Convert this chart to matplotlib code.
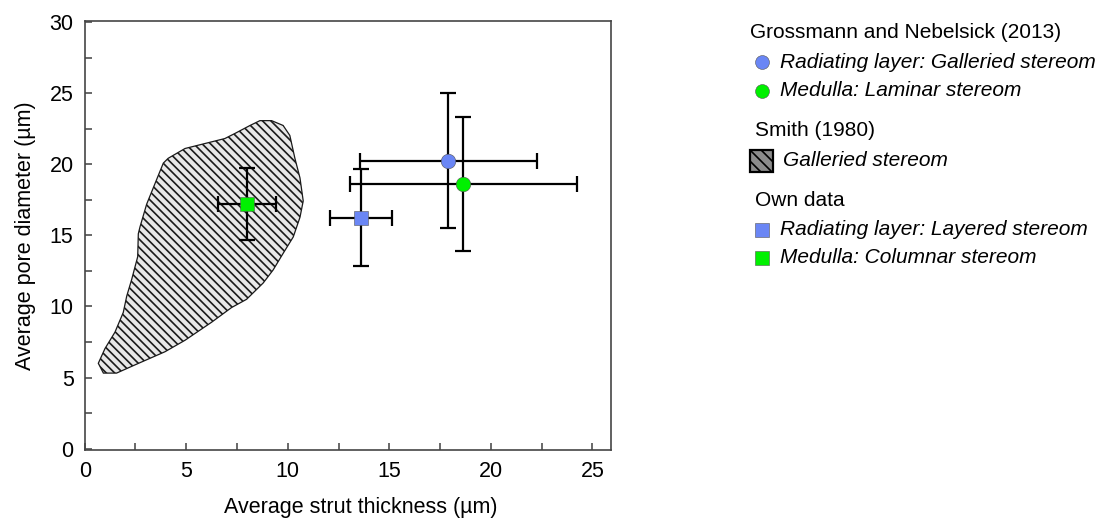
import numpy as np
import matplotlib.pyplot as plt
from matplotlib.lines import Line2D
from matplotlib.patches import Polygon, Rectangle
from matplotlib.ticker import MultipleLocator

plt.rcParams['font.family'] = ['Liberation Sans', 'DejaVu Sans']
plt.rcParams['hatch.linewidth'] = 1.2

# Grossmann and Nebelsick (2013): circles
gn_labels = ["Radiating layer: Galleried stereom", "Medulla: Laminar stereom"]
gn_x = [17.9, 18.65]
gn_y = [20.25, 18.6]
gn_xerr = [4.35, 5.6]
gn_yerr = [4.73, 4.7]
gn_colors = ["#6a86f5", "#00f000"]

# Own data: squares
own_labels = ["Radiating layer: Layered stereom", "Medulla: Columnar stereom"]
own_x = [13.62, 8.0]
own_y = [16.25, 17.22]
own_xerr = [1.52, 1.44]
own_yerr = [3.43, 2.55]
own_colors = ["#6a86f5", "#00f000"]

# Smith (1980): field of galleried stereom (outline)
smith_x = [0.67, 1.00, 1.49, 1.90, 2.07, 2.31, 2.61, 2.64, 2.72, 3.05, 3.54, 3.87,
           4.11, 4.94, 6.90, 7.40, 8.14, 8.63, 9.20, 9.77, 10.10, 10.35, 10.60,
           10.76, 10.60, 10.27, 9.77, 9.28, 8.79, 7.97, 7.23, 6.25, 4.94, 3.95,
           2.48, 1.57, 0.92]
smith_y = [6.00, 7.04, 8.19, 9.58, 10.73, 11.88, 13.50, 15.11, 15.58, 17.19, 18.92,
           20.08, 20.42, 21.11, 21.81, 22.17, 22.73, 23.07, 23.07, 22.73, 22.03,
           20.42, 19.04, 17.42, 16.27, 14.89, 13.73, 12.57, 11.65, 10.50, 9.92,
           8.89, 7.62, 6.81, 5.89, 5.31, 5.31]

W, H = 1105, 520
fig = plt.figure(figsize=(W / 100, H / 100), dpi=100)
ax = fig.add_axes([84.7 / W, 1 - 450 / H, (610.7 - 84.7) / W, (450 - 20.7) / H])

# hatched field
field = Polygon(np.column_stack([smith_x, smith_y]), closed=True,
                facecolor="#e8e8e8", edgecolor="#1a1a1a", linewidth=0.9,
                hatch="\\\\\\\\", zorder=1)
ax.add_patch(field)

err_kw = dict(fmt="none", ecolor="black", elinewidth=1.6, capsize=5.5,
              capthick=1.6, zorder=2)
for x, y, xe, ye, c in zip(gn_x, gn_y, gn_xerr, gn_yerr, gn_colors):
    ax.errorbar(x, y, xerr=xe, yerr=ye, **err_kw)
    ax.plot(x, y, "o", ms=10.5, mfc=c, mec="#555555", mew=0.4, zorder=3)
for x, y, xe, ye, c in zip(own_x, own_y, own_xerr, own_yerr, own_colors):
    ax.errorbar(x, y, xerr=xe, yerr=ye, **err_kw)
    ax.plot(x, y, "s", ms=9.5, mfc=c, mec="#555555", mew=0.4, zorder=3)

ax.set_xlim(0, 25.9)
ax.set_ylim(-0.1, 30.1)
ax.xaxis.set_major_locator(MultipleLocator(5))
ax.xaxis.set_minor_locator(MultipleLocator(2.5))
ax.yaxis.set_major_locator(MultipleLocator(5))
ax.yaxis.set_minor_locator(MultipleLocator(2.5))
ax.tick_params(which="both", direction="in", length=5, width=1.1,
               color="#404040", top=False, right=False)
ax.tick_params(which="major", labelsize=15.5, pad=8)
for sp in ax.spines.values():
    sp.set_color("#454545")
    sp.set_linewidth(1.2)

ax.set_xlabel("Average strut thickness (µm)", fontsize=15.5)
ax.xaxis.set_label_coords(0.525, -0.11)
ax.set_ylabel("Average pore diameter (µm)", fontsize=15.5, labelpad=10)


# legend drawn by hand in pixel positions
def fx(px):
    return px / W


def fy(py):
    return 1 - py / H


leg_fs = 15
fig.text(fx(750), fy(32), "Grossmann and Nebelsick (2013)", fontsize=leg_fs, va="center")
for i, (lab, c) in enumerate(zip(gn_labels, gn_colors)):
    yy = 62 + i * 28.5
    fig.add_artist(Line2D([fx(762)], [fy(yy)], marker="o", ms=10, mfc=c,
                          mec="#555555", mew=0.4, transform=fig.transFigure))
    fig.text(fx(780), fy(yy), lab, fontsize=leg_fs, style="italic", va="center")

fig.text(fx(755), fy(131), "Smith (1980)", fontsize=leg_fs, va="center")
fig.add_artist(Rectangle((fx(750), fy(172.5)), (773 - 750) / W, (172.5 - 150) / H,
                         transform=fig.transFigure, facecolor="#8c8c8c",
                         edgecolor="black", linewidth=1.6, hatch="\\\\\\"))
fig.text(fx(783), fy(160), "Galleried stereom", fontsize=leg_fs, style="italic", va="center")

fig.text(fx(755), fy(201), "Own data", fontsize=leg_fs, va="center")
for i, (lab, c) in enumerate(zip(own_labels, own_colors)):
    yy = 229.5 + i * 28
    fig.add_artist(Line2D([fx(762)], [fy(yy)], marker="s", ms=9.5, mfc=c,
                          mec="#555555", mew=0.4, transform=fig.transFigure))
    fig.text(fx(780), fy(yy), lab, fontsize=leg_fs, style="italic", va="center")

fig.savefig("out.png", dpi=100)
